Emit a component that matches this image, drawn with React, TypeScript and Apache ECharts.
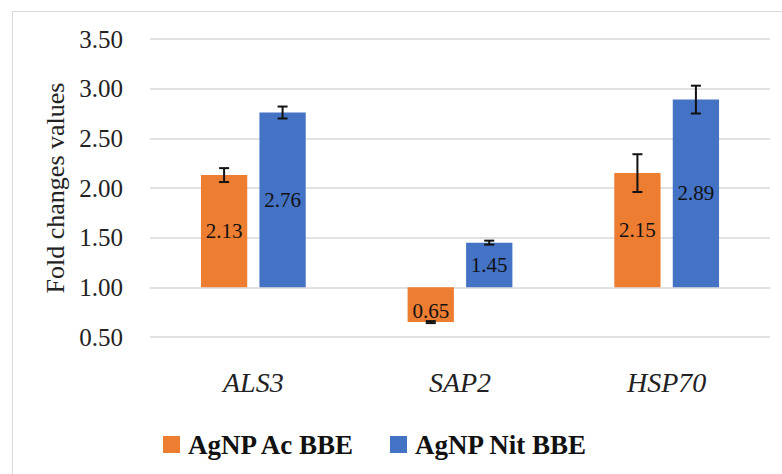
import React, { useEffect, useRef } from "react";
import * as echarts from "echarts";

const categories = ["ALS3", "SAP2", "HSP70"];
const seriesNames = ["AgNP Ac BBE", "AgNP Nit BBE"];
const acValues = [2.13, 0.65, 2.15];
const acErrors = [0.07, 0.01, 0.19];
const nitValues = [2.76, 1.45, 2.89];
const nitErrors = [0.06, 0.02, 0.14];
const yTicks = { min: 0.5, max: 3.5, interval: 0.5 };
const baseline = 1.0;

const FONT = "Liberation Serif";
const COLORS = ["#ED7D31", "#4472C4"];

function makeRenderItem(offsetFrac: number, color: string) {
  return (params: any, api: any) => {
    const x = api.value(0);
    const v = api.value(1);
    const e = api.value(2);
    const band = api.size([1, 0])[0];
    const bw = band * 0.224;
    const basePt = api.coord([x, baseline]);
    const topPt = api.coord([x, v]);
    const cx = basePt[0] + offsetFrac * band;
    const y0 = Math.min(basePt[1], topPt[1]);
    const h = Math.abs(basePt[1] - topPt[1]);
    const eTop = api.coord([x, v + e])[1];
    const eBot = api.coord([x, v - e])[1];
    const cap = 5;
    const errStyle = { stroke: "#111", lineWidth: 2 };
    return {
      type: "group",
      children: [
        {
          type: "rect",
          shape: { x: cx - bw / 2, y: y0, width: bw, height: h },
          style: { fill: color },
        },
        {
          type: "text",
          style: {
            text: v.toFixed(2),
            x: cx,
            y: y0 + h / 2 + (v < baseline ? 6 : 0),
            align: "center",
            verticalAlign: "middle",
            fontSize: 21,
            fontFamily: FONT,
            fill: "#111",
          },
        },
        {
          type: "line",
          shape: { x1: cx, y1: eTop, x2: cx, y2: eBot },
          style: errStyle,
        },
        {
          type: "line",
          shape: { x1: cx - cap, y1: eTop, x2: cx + cap, y2: eTop },
          style: errStyle,
        },
        {
          type: "line",
          shape: { x1: cx - cap, y1: eBot, x2: cx + cap, y2: eBot },
          style: errStyle,
        },
      ],
    };
  };
}

export default function App() {
  const ref = useRef<HTMLDivElement>(null);
  useEffect(() => {
    document.body.style.margin = "0";
    if (!ref.current) return;
    const chart = echarts.init(ref.current, null, { renderer: "svg" });
    const acData = categories.map((_, i) => [i, acValues[i], acErrors[i]]);
    const nitData = categories.map((_, i) => [i, nitValues[i], nitErrors[i]]);
    chart.setOption({
      animation: false,
      color: COLORS,
      graphic: [
        {
          type: "rect",
          shape: { x: 12.5, y: 11.5, width: 800, height: 500 },
          style: { fill: "none", stroke: "#d9d9d9", lineWidth: 1 },
          silent: true,
        },
      ],
      grid: { left: 150, right: 12, top: 39, bottom: 137, containLabel: false },
      legend: {
        left: 158,
        top: 426,
        itemWidth: 17,
        itemHeight: 17,
        itemGap: 34,
        icon: "rect",
        data: seriesNames,
        textStyle: {
          fontFamily: FONT,
          fontSize: 27,
          fontWeight: "bold",
          color: "#111",
          padding: [0, 0, 0, 3],
        },
      },
      xAxis: {
        type: "category",
        data: categories,
        axisLine: { show: false },
        axisTick: { show: false },
        axisLabel: {
          fontFamily: FONT,
          fontStyle: "italic",
          fontSize: 28,
          color: "#222",
          margin: 31,
        },
      },
      yAxis: {
        type: "value",
        min: yTicks.min,
        max: yTicks.max,
        interval: yTicks.interval,
        name: "Fold changes values",
        nameLocation: "middle",
        nameRotate: 90,
        nameGap: 82,
        nameTextStyle: { fontFamily: FONT, fontSize: 26, color: "#222" },
        axisLine: { show: false },
        axisTick: { show: false },
        axisLabel: {
          fontFamily: FONT,
          fontSize: 25,
          color: "#222",
          margin: 27,
          formatter: (v: number) => v.toFixed(2),
        },
        splitLine: { lineStyle: { color: "#d9d9d9", width: 1.5 } },
      },
      series: [
        {
          name: seriesNames[0],
          type: "custom",
          itemStyle: { color: COLORS[0] },
          encode: { x: 0, y: 1 },
          renderItem: makeRenderItem(-0.1415, COLORS[0]),
          data: acData,
        },
        {
          name: seriesNames[1],
          type: "custom",
          itemStyle: { color: COLORS[1] },
          encode: { x: 0, y: 1 },
          renderItem: makeRenderItem(0.1415, COLORS[1]),
          data: nitData,
        },
      ],
    });
    return () => chart.dispose();
  }, []);
  return <div ref={ref} style={{ width: 782, height: 474 }} />;
}
